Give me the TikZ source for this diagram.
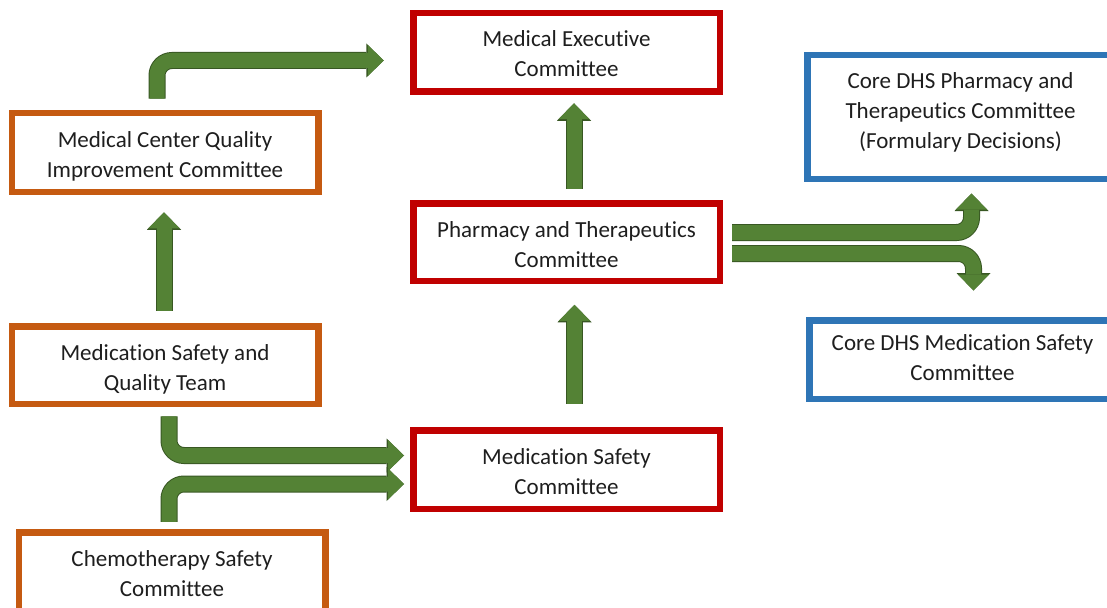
\documentclass[tikz,border=0pt]{standalone}
\usepackage{fontspec}
\setmainfont{Carlito}[Ligatures=NoCommon]
\usetikzlibrary{arrows.meta,calc}
\definecolor{cred}{HTML}{C00000}
\definecolor{corange}{HTML}{C55A11}
\definecolor{cblue}{HTML}{2E75B6}
\definecolor{gfill}{HTML}{548235}
\definecolor{gdark}{HTML}{385723}
\definecolor{txt}{HTML}{1E1E1E}
\newcommand{\bxt}[3]{\parbox[c][#1][t]{300pt}{\centering\rule{0pt}{#2}#3}}
\begin{document}
\begin{tikzpicture}[x=1pt,y=-1pt,
  cbox/.style={draw=#1, line width=6.5pt, fill=white, inner sep=0pt,
    minimum width=306.5pt, text=txt, font=\fontsize{23pt}{30pt}\selectfont},
  garrow/.style={draw=gfill, line width=15pt, rounded corners=15pt, line cap=butt,
    -{Triangle[width=31pt,length=16pt,line width=0pt,color=gfill]},
    preaction={draw=gdark, line width=17pt,
      -{Triangle[width=34pt,length=17.5pt,line width=0pt,color=gdark]}}}]
\useasboundingbox (0,0) rectangle (1107,607);
\fill[white] (0,0) rectangle (1107,607);
\clip (0,0) rectangle (1107,607);
% boxes
\node[cbox=cred] (mec) at (566.5,52.5) {\bxt{78.5pt}{33.75pt}{Medical Executive\\Committee}};
\node[cbox=corange] (mcqic) at (165,152.5) {\bxt{78.5pt}{33.75pt}{Medical Center Quality\\Improvement Committee}};
\node[cbox=cred] (pt) at (566.5,242) {\bxt{77.5pt}{33.75pt}{Pharmacy and Therapeutics\\Committee}};
\node[cbox=corange] (msqt) at (165,365) {\bxt{77.5pt}{33.75pt}{Medication Safety and\\Quality Team}};
\node[cbox=cred] (msc) at (566.5,469.5) {\bxt{78.5pt}{34.25pt}{Medication Safety\\Committee}};
\node[cbox=corange] (chemo) at (172,571.5) {\bxt{78.5pt}{33.75pt}{Chemotherapy Safety\\Committee}};
\node[cbox=cblue] (cpt) at (960.5,117) {\bxt{123.5pt}{33.25pt}{Core DHS Pharmacy and\\Therapeutics Committee\\(Formulary Decisions)}};
\node[cbox=cblue] (cms) at (962.5,359.5) {\bxt{78.5pt}{30.5pt}{Core DHS Medication Safety\\Committee}};
% arrows
\draw[garrow] ($(msqt.north)+(-1,-12.25)$) -- ($(mcqic.south)+(-1,17.25)$);
\draw[garrow] ($(mcqic.north)+(-8,-11.25)$) |- ($(mec.west)+(-26.25,8)$);
\draw[garrow] ($(pt.north)+(7.5,-11.25)$) -- ($(mec.south)+(7.5,8.25)$);
\draw[garrow] ($(msc.north)+(8,-23.25)$) -- ($(pt.south)+(8,20.75)$);
\draw[garrow] ($(pt.east)+(9,-9.5)$) -| ($(cpt.south)+(11,11.5)$);
\draw[garrow] ($(pt.east)+(9,11.5)$) -| ($(cms.north)+(11,-26.5)$);
\draw[garrow] ($(msqt.south)+(4,9.25)$) |- ($(msc.west)+(-6,-14)$);
\draw[garrow] ($(chemo.north)+(-3,-7.25)$) |- ($(msc.west)+(-6,14.5)$);
\end{tikzpicture}
\end{document}
